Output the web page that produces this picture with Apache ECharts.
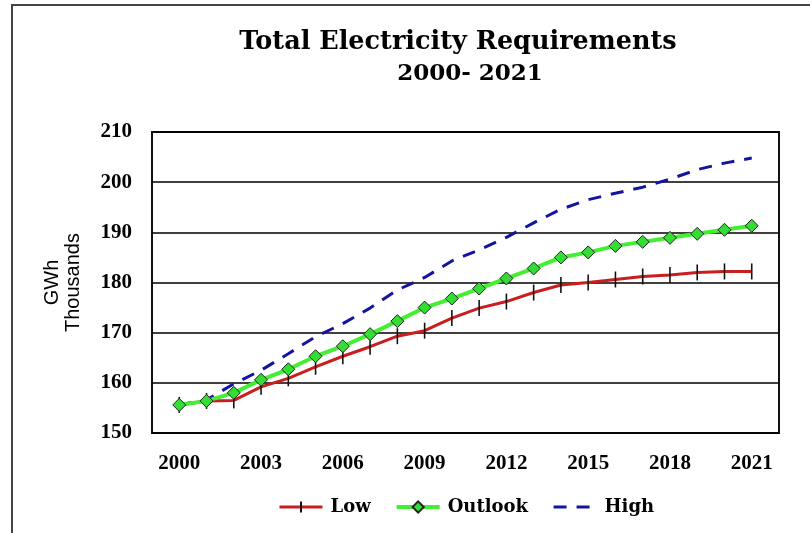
<!DOCTYPE html>
<html>
<head>
<meta charset="utf-8">
<script src="https://cdn.jsdelivr.net/npm/echarts@6/dist/echarts.min.js"></script>
<style>
html,body{margin:0;padding:0;background:#fff;}
#chart{width:810px;height:533px;}
</style>
</head>
<body>
<div id="chart"></div>
<script>
const years = [2000,2001,2002,2003,2004,2005,2006,2007,2008,2009,2010,2011,2012,2013,2014,2015,2016,2017,2018,2019,2020,2021];
const lowValues = [155.6,156.4,156.5,159.2,160.9,163.2,165.3,167.2,169.3,170.4,172.9,174.9,176.2,178.0,179.5,180.0,180.6,181.2,181.5,182.0,182.2,182.2];
const outlookValues = [155.6,156.4,158.0,160.6,162.7,165.3,167.3,169.7,172.3,175.0,176.8,178.8,180.8,182.8,185.0,186.0,187.3,188.1,188.9,189.7,190.5,191.3];
const highValues = [155.6,156.6,159.8,162.5,165.8,169.2,171.8,174.9,178.5,181.0,184.3,186.5,189.0,191.9,194.6,196.5,197.8,199.0,200.6,202.5,203.8,204.8];
const xTickLabels = [2000,2003,2006,2009,2012,2015,2018,2021];
const yTicks = [150,160,170,180,190,200,210];
const titleLine1 = 'Total Electricity Requirements';
const titleLine2 = '2000- 2021';

const pairs = v => years.map((y,i)=>[y, v[i]]);
const serifBold = {fontFamily:'Liberation Serif', fontWeight:'bold', color:'#000'};

const chart = echarts.init(document.getElementById('chart'), null, {renderer:'canvas'});
chart.setOption({
  animation:false,
  backgroundColor:'#fff',
  title:[
    {text:titleLine1, left:458, top:29, textAlign:'center', padding:0,
     textStyle:{fontFamily:'DejaVu Serif', fontWeight:'bold', color:'#000', fontSize:25.5}},
    {text:titleLine2, left:470, top:63, textAlign:'center', padding:0,
     textStyle:{fontFamily:'DejaVu Serif', fontWeight:'bold', color:'#000', fontSize:23}}
  ],
  graphic:[{
    type:'rect', shape:{x:12,y:5,width:830,height:560},
    style:{fill:'none', stroke:'#444', lineWidth:2}, silent:true
  }],
  grid:{left:152, right:31, top:132, bottom:100, show:true, borderColor:'#111', borderWidth:2, backgroundColor:'transparent'},
  legend:{
    top:493, left:273,
    itemWidth:43, itemHeight:14, itemGap:24,
    lineStyle:{width:'inherit'},
    formatter: name => '{g|}' + name,
    textStyle:{fontFamily:'DejaVu Serif', fontWeight:'bold', fontSize:18, color:'#000',
      rich:{g:{width:3}}},
    data:[
      {name:'Low'},
      {name:'Outlook'},
      {name:'High', itemStyle:{opacity:0}}
    ]
  },
  xAxis:{
    type:'value', min:1999, max:2022,
    axisLine:{show:false}, axisTick:{show:false}, splitLine:{show:false},
    axisLabel:Object.assign({}, serifBold, {fontSize:21, margin:20, customValues:xTickLabels, formatter:v=>String(v)})
  },
  yAxis:{
    type:'value', min:yTicks[0], max:yTicks[yTicks.length-1], interval:10,
    name:'GWh\nThousands', nameLocation:'middle', nameRotate:90, nameGap:68,
    nameTextStyle:{fontFamily:'Liberation Sans', fontSize:20, color:'#000', lineHeight:21},
    axisLine:{show:false}, axisTick:{show:false},
    splitLine:{show:true, lineStyle:{color:'#000', width:1.5}},
    axisLabel:Object.assign({}, serifBold, {fontSize:21, margin:20})
  },
  series:[
    {
      name:'Low', type:'line', data:pairs(lowValues),
      symbol:'path://M0,0 M5,0 L5,16 M10,16', symbolSize:[10,16],
      itemStyle:{color:'transparent', borderColor:'#111', borderWidth:2},
      lineStyle:{color:'#c81e1e', width:3},
      z:3
    },
    {
      name:'Outlook', type:'line', data:pairs(outlookValues),
      symbol:'diamond', symbolSize:13,
      itemStyle:{color:'#33dd33', borderColor:'#222', borderWidth:1},
      lineStyle:{color:'#44ee33', width:4},
      z:4
    },
    {
      name:'High', type:'line', data:pairs(highValues),
      symbol:'none',
      itemStyle:{color:'#1414a0'},
      lineStyle:{color:'#1414a0', width:3, type:[13,10]},
      z:2
    }
  ]
});
</script>
</body>
</html>
